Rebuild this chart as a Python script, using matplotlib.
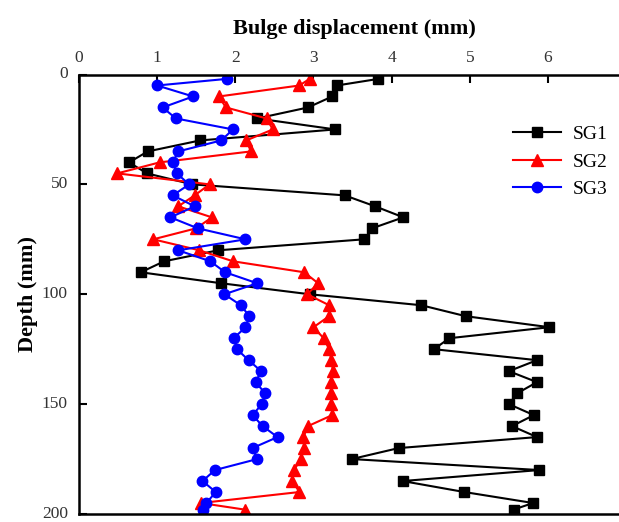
import matplotlib
matplotlib.use("Agg")
import matplotlib.pyplot as plt

# depth of each gauge reading (mm)
depth = [2, 5, 10, 15, 20, 25, 30, 35, 40, 45, 50, 55, 60, 65, 70, 75, 80, 85, 90, 95,
         100, 105, 110, 115, 120, 125, 130, 135, 140, 145, 150, 155, 160, 165, 170, 175,
         180, 185, 190, 195, 198]

# bulge displacement (mm)
sg1 = [3.83, 3.30, 3.24, 2.93, 2.28, 3.28, 1.55, 0.88, 0.64, 0.87, 1.45, 3.40, 3.79, 4.15,
       3.75, 3.65, 1.78, 1.09, 0.79, 1.82, 2.95, 4.38, 4.95, 6.02, 4.74, 4.54, 5.86, 5.50,
       5.86, 5.61, 5.50, 5.82, 5.54, 5.86, 4.09, 3.49, 5.89, 4.14, 4.93, 5.81, 5.56]
sg2 = [2.95, 2.82, 1.79, 1.88, 2.40, 2.48, 2.14, 2.20, 1.03, 0.49, 1.67, 1.48, 1.27, 1.70,
       1.50, 0.95, 1.54, 1.97, 2.88, 3.06, 2.92, 3.20, 3.20, 3.00, 3.13, 3.20, 3.23, 3.25,
       3.23, 3.22, 3.23, 3.24, 2.93, 2.87, 2.88, 2.84, 2.75, 2.73, 2.82, 1.56, 2.12]
sg3 = [1.89, 1.00, 1.46, 1.07, 1.24, 1.97, 1.82, 1.27, 1.20, 1.25, 1.41, 1.20, 1.48, 1.17,
       1.52, 2.13, 1.27, 1.68, 1.87, 2.28, 1.86, 2.07, 2.18, 2.13, 1.98, 2.02, 2.17, 2.33,
       2.26, 2.38, 2.34, 2.22, 2.35, 2.54, 2.22, 2.28, 1.74, 1.58, 1.75, 1.63, 1.59]

labels = ["SG1", "SG2", "SG3"]
xticks = [0, 1, 2, 3, 4, 5, 6]
yticks = [0, 50, 100, 150, 200]

plt.rcParams['font.family'] = ['Liberation Serif', 'DejaVu Serif']

fig = plt.figure(figsize=(6.19, 5.22), dpi=100)
# right edge of the axes runs a bit past the picture, like the original crop
ax = fig.add_axes((79 / 619, 1 - 514 / 522, (630 - 79) / 619, (514 - 74.5) / 522))

ax.plot(sg1, depth, color='k', marker='s', ms=6.5, lw=1.5, label=labels[0])
ax.plot(sg2, depth, color='r', marker='^', ms=8, lw=1.5, label=labels[1])
ax.plot(sg3, depth, color='b', marker='o', ms=7.5, lw=1.5, label=labels[2])

ax.set_xlim(0, 7.05)
ax.set_ylim(200, 0)
ax.set_xticks(xticks)
ax.set_yticks(yticks)

ax.xaxis.tick_top()
ax.xaxis.set_label_position('top')
ax.tick_params(axis='both', direction='in', length=6, width=1.5,
               labelsize=12.5, labelcolor='#333333')
ax.tick_params(axis='x', pad=6)
ax.tick_params(axis='y', pad=8)
for lbl in ax.get_yticklabels():
    lbl.set_verticalalignment('center')  # keeps "200" inside the picture

for s in ax.spines.values():
    s.set_linewidth(1.8)
ax.spines['right'].set_visible(False)

ax.set_xlabel("Bulge displacement (mm)", fontsize=16, fontweight='bold', labelpad=11.5)
ax.set_ylabel("Depth (mm)", fontsize=16, fontweight='bold', labelpad=3)

fig.legend(loc='center left', bbox_to_anchor=(0.80, 0.69), frameon=False, fontsize=14,
           handlelength=2.5, handletextpad=0.6, labelspacing=0.5)

fig.savefig("out.png", dpi=100)
